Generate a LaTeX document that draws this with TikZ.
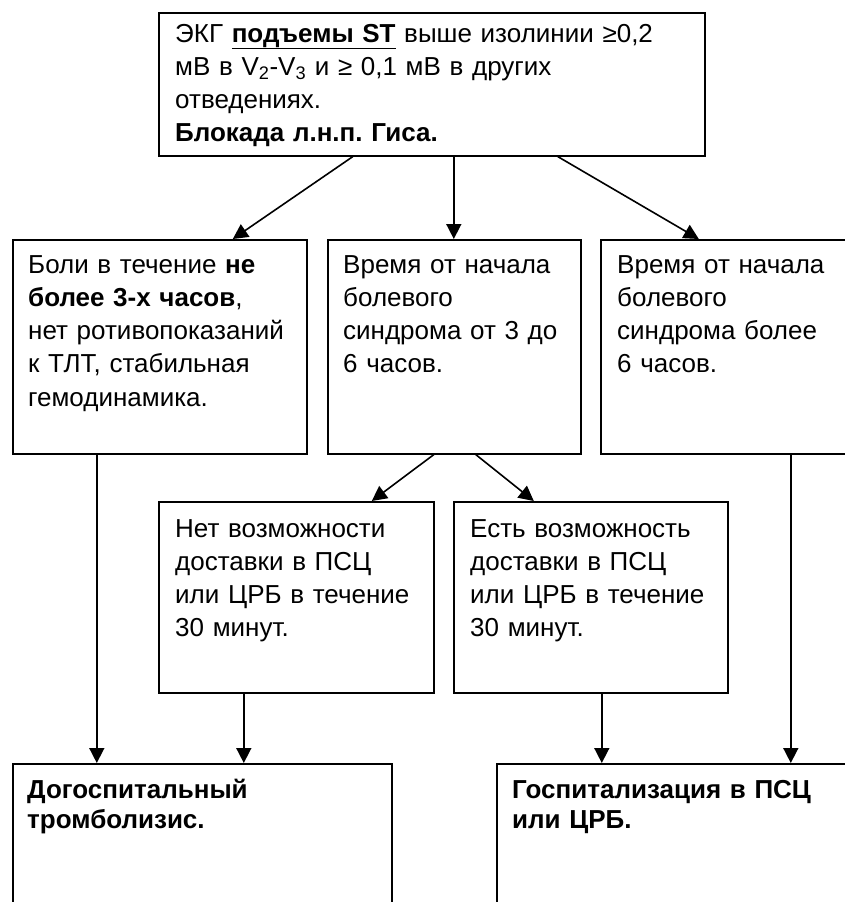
\documentclass[tikz,border=0pt]{standalone}
\usepackage{fontspec}
\setmainfont{Liberation Sans}
\usetikzlibrary{arrows.meta}
\frenchspacing
\begin{document}
\begin{tikzpicture}[x=1pt,y=-1pt,
  box/.style={draw, line width=1.6pt, inner sep=0pt, anchor=north west},
  txt/.style={anchor=base west, inner sep=0pt, text width=600pt, align=left,
    font=\fontsize{26}{33.3}\selectfont},
  btxt/.style={anchor=base west, inner sep=0pt, text width=600pt, align=left,
    font=\fontsize{26}{30}\selectfont\bfseries},
  arr/.style={line width=1.6pt, -{Triangle[length=15pt,width=15pt]}}]
\useasboundingbox (0,0) rectangle (845,902);
\clip (0,0) rectangle (845,902);
\fill[white] (0,0) rectangle (845,902);
% boxes
\node[box, minimum width=546pt, minimum height=143pt] (top) at (158,12) {};
\node[box, minimum width=294pt, minimum height=214pt] (l2a) at (12,239) {};
\node[box, minimum width=253pt, minimum height=214pt] (l2b) at (327,239) {};
\node[box, minimum width=250pt, minimum height=214pt] (l2c) at (600,239) {};
\node[box, minimum width=275pt, minimum height=191pt] (l3a) at (158,501) {};
\node[box, minimum width=274pt, minimum height=191pt] (l3b) at (453,501) {};
\node[box, minimum width=379pt, minimum height=160pt] (l4a) at (12,763) {};
\node[box, minimum width=354pt, minimum height=160pt] (l4b) at (496,763) {};
% texts
\node[txt] (ttop) at (175,42) {ЭКГ \underline{\textbf{подъемы ST}} выше изолинии ≥0,2\\
мВ в V\textsubscript{2}-V\textsubscript{3} и ≥ 0,1 мВ в других\\
отведениях.\\
\textbf{Блокада л.н.п. Гиса.}};
\node[txt] (tl2a) at (28,273) {Боли в течение \textbf{не}\\
\textbf{более 3-х часов},\\
нет ротивопоказаний\\
к ТЛТ, стабильная\\
гемодинамика.};
\node[txt] (tl2b) at (343,273) {Время от начала\\
болевого\\
синдрома от 3 до\\
6 часов.};
\node[txt] (tl2c) at (617,273) {Время от начала\\
болевого\\
синдрома более\\
6 часов.};
\node[txt] (tl3a) at (175,537) {Нет возможности\\
доставки в ПСЦ\\
или ЦРБ в течение\\
30 минут.};
\node[txt] (tl3b) at (470,537) {Есть возможность\\
доставки в ПСЦ\\
или ЦРБ в течение\\
30 минут.};
\node[btxt] (tl4a) at (27,798) {Догоспитальный\\
тромболизис.};
\node[btxt] (tl4b) at (512,798) {Госпитализация в ПСЦ\\
или ЦРБ.};
% connectors
\draw[arr] ([xshift=-79pt]top.south) -- ([xshift=73pt]l2a.north);
\draw[arr] ([xshift=22pt]top.south) -- ([xshift=-0.5pt]l2b.north);
\draw[arr] ([xshift=126pt]top.south) -- ([xshift=-27pt]l2c.north);
\draw[arr] ([xshift=-20.5pt]l2b.south) -- ([xshift=75.5pt]l3a.north);
\draw[arr] ([xshift=21.5pt]l2b.south) -- ([xshift=-57pt]l3b.north);
\draw[arr] ([xshift=-63pt]l2a.south) -- ([xshift=-105.5pt]l4a.north);
\draw[arr] ([xshift=-52.5pt]l3a.south) -- ([xshift=41.5pt]l4a.north);
\draw[arr] ([xshift=11pt]l3b.south) -- ([xshift=-72pt]l4b.north);
\draw[arr] ([xshift=65pt]l2c.south) -- ([xshift=117pt]l4b.north);
\end{tikzpicture}
\end{document}
